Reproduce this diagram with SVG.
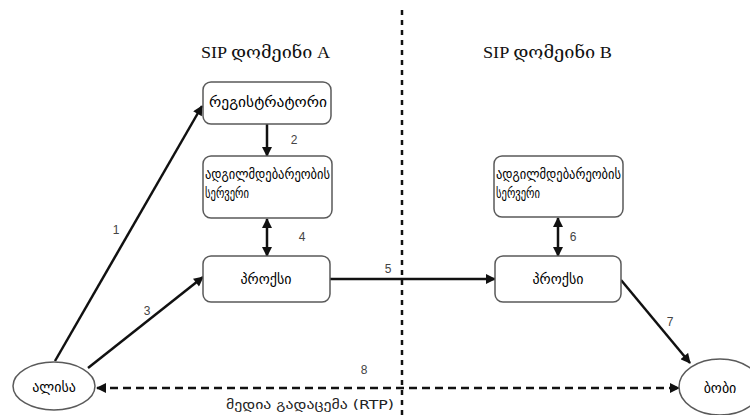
<svg xmlns="http://www.w3.org/2000/svg" width="750" height="415" viewBox="0 0 750 415">
  <style>
    .box { fill: #ffffff; stroke: #5a5a5a; stroke-width: 1.5; }
    .node-text { font-family: "DejaVu Sans", "Noto Sans", sans-serif; font-size: 14px; fill: #000; }
    .title { font-family: "Liberation Serif", "DejaVu Serif", serif; font-size: 17px; fill: #111; }
    .num { font-family: "Liberation Sans", Arial, sans-serif; font-size: 12px; fill: #444; }
    .caption { font-family: "DejaVu Sans", "Liberation Sans", sans-serif; font-size: 12px; fill: #222; }
    .edge { stroke: #111; stroke-width: 2.5; fill: none; }
    .dashed { stroke: #111; stroke-width: 2.5; fill: none; stroke-dasharray: 8 5; }
    .divider { stroke: #111; stroke-width: 2.5; fill: none; stroke-dasharray: 5 5; }
  </style>
  <defs>
    <marker id="arrow" viewBox="0 0 10 10" refX="9" refY="5" markerWidth="4.4" markerHeight="4" orient="auto-start-reverse" markerUnits="strokeWidth">
      <path d="M0,0 L10,5 L0,10 Z" fill="#111"/>
    </marker>
  </defs>

  <rect width="750" height="415" fill="#ffffff"/>

  <!-- domain boundary -->
  <line class="divider" x1="402" y1="10" x2="402" y2="415"/>

  <!-- domain titles -->
  <text class="title" x="201" y="58" textLength="129" lengthAdjust="spacingAndGlyphs">SIP დომეინი A</text>
  <text class="title" x="483" y="58" textLength="129" lengthAdjust="spacingAndGlyphs">SIP დომეინი B</text>

  <!-- connectors -->
  <g id="connectors">
    <line class="edge" x1="55" y1="361" x2="202" y2="106" marker-end="url(#arrow)"/>
    <line class="edge" x1="267" y1="124" x2="267" y2="156" marker-end="url(#arrow)"/>
    <line class="edge" x1="88" y1="368" x2="203" y2="277" marker-end="url(#arrow)"/>
    <line class="edge" x1="267" y1="219" x2="267" y2="256" marker-start="url(#arrow)" marker-end="url(#arrow)"/>
    <line class="edge" x1="330" y1="279" x2="495" y2="279" marker-end="url(#arrow)"/>
    <line class="edge" x1="558" y1="218" x2="558" y2="256" marker-start="url(#arrow)" marker-end="url(#arrow)"/>
    <line class="edge" x1="621" y1="280" x2="690" y2="363" marker-end="url(#arrow)"/>
    <line class="dashed" x1="97" y1="388" x2="679" y2="388" marker-start="url(#arrow)" marker-end="url(#arrow)"/>

    <text class="num" x="116" y="234" text-anchor="middle">1</text>
    <text class="num" x="294" y="144" text-anchor="middle">2</text>
    <text class="num" x="147" y="315" text-anchor="middle">3</text>
    <text class="num" x="302" y="241" text-anchor="middle">4</text>
    <text class="num" x="388" y="273" text-anchor="middle">5</text>
    <text class="num" x="573" y="241" text-anchor="middle">6</text>
    <text class="num" x="670" y="326" text-anchor="middle">7</text>
    <text class="num" x="364" y="374" text-anchor="middle">8</text>
    <text class="caption" x="226" y="409" textLength="168" lengthAdjust="spacingAndGlyphs">მედია გადაცემა (RTP)</text>
  </g>

  <!-- domain A -->
  <g id="registrar-a">
    <rect class="box" x="203" y="82" width="128" height="42" rx="8"/>
    <text class="node-text" x="209" y="107" textLength="118" lengthAdjust="spacingAndGlyphs">რეგისტრატორი</text>
  </g>
  <g id="location-a">
    <rect class="box" x="203" y="156" width="129" height="62" rx="8"/>
    <text class="node-text" x="205" y="179" textLength="125" lengthAdjust="spacingAndGlyphs">ადგილმდებარეობის</text>
    <text class="node-text" x="205" y="198" textLength="44" lengthAdjust="spacingAndGlyphs">სერვერი</text>
  </g>
  <g id="proxy-a">
    <rect class="box" x="203" y="256" width="127" height="46" rx="8"/>
    <text class="node-text" x="266" y="284" text-anchor="middle">პროქსი</text>
  </g>

  <!-- domain B -->
  <g id="location-b">
    <rect class="box" x="494" y="156" width="129" height="61" rx="8"/>
    <text class="node-text" x="496" y="179" textLength="125" lengthAdjust="spacingAndGlyphs">ადგილმდებარეობის</text>
    <text class="node-text" x="496" y="198" textLength="44" lengthAdjust="spacingAndGlyphs">სერვერი</text>
  </g>
  <g id="proxy-b">
    <rect class="box" x="495" y="256" width="126" height="46" rx="8"/>
    <text class="node-text" x="558" y="284" text-anchor="middle">პროქსი</text>
  </g>

  <!-- endpoints -->
  <g id="alice">
    <ellipse class="box" cx="54" cy="386" rx="41" ry="24"/>
    <text class="node-text" x="54" y="392" text-anchor="middle">ალისა</text>
  </g>
  <g id="bob">
    <ellipse class="box" cx="720" cy="387" rx="41" ry="28"/>
    <text class="node-text" x="720" y="393" text-anchor="middle">ბობი</text>
  </g>
</svg>
